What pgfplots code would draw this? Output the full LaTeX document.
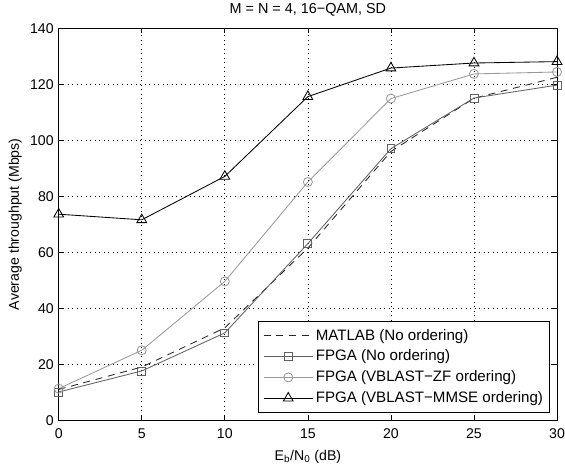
\documentclass[border=0pt]{standalone}
\usepackage{fontspec}
\setmainfont{Liberation Sans}
\usepackage{pgfplots}
\pgfplotsset{compat=1.18}
\definecolor{sqgray}{gray}{0.38}
\definecolor{cigray}{gray}{0.6}
\begin{document}
\begin{tikzpicture}
\useasboundingbox (0,0) rectangle (400pt,330.6pt);
\begin{axis}[
  at={(41.56pt,33.06pt)}, anchor=south west,
  scale only axis,
  width=352.8pt, height=277.5pt,
  xmin=0, xmax=30, ymin=0, ymax=140,
  xtick={0,5,...,30}, ytick={0,20,...,140},
  /pgf/number format/assume math mode=true,
  tick align=inside, major tick length=3.5pt,
  tick style={black, line width=0.5pt},
  axis line style={black, line width=0.6pt},
  grid=major,
  major grid style={black, line width=0.45pt, dash pattern=on 0.6pt off 2.6pt},
  font=\fontsize{10}{12}\selectfont,
  tick label style={font=\fontsize{10}{12}\selectfont},
  xticklabel style={yshift=-2.5pt},
  title={M = N = 4, 16−QAM, SD},
  title style={font=\fontsize{10.2}{12}\selectfont, yshift=-1pt},
  xlabel={E\textsubscript{b}/N\textsubscript{0} (dB)},
  ylabel={Average throughput (Mbps)},
  xlabel style={yshift=-1pt},
  ylabel style={yshift=-1pt},
  legend cell align=left,
  legend style={at={(0.986,0.018)}, anchor=south east, draw=black, line width=0.6pt,
    fill=white, font=\fontsize{10.7}{12}\selectfont, row sep=2.1pt,
    inner ysep=4pt, inner xsep=3pt,
    nodes={inner sep=1.7pt}},
  legend image code/.code={\draw[mark repeat=2,mark phase=2,#1] plot coordinates {(0pt,0pt)(17.5pt,0pt)(35pt,0pt)};},
]
\addplot[black!85, line width=0.6pt, dash pattern=on 5pt off 4pt] coordinates {
(0,11) (5,19) (10,33) (15,61.5) (20,96) (25,115) (30,122.5)};
\addlegendentry{MATLAB (No ordering)}
\addplot[sqgray, line width=0.6pt, mark=square, mark size=2.8pt, mark options={solid, line width=0.6pt}] coordinates {
(0,10.1) (5,17.6) (10,31.2) (15,63.1) (20,97) (25,115.1) (30,119.7)};
\addlegendentry{FPGA (No ordering)}
\addplot[cigray, line width=0.6pt, mark=o, mark size=3.2pt, mark options={solid, line width=0.6pt}] coordinates {
(0,11.3) (5,25) (10,49.6) (15,85.1) (20,114.9) (25,123.7) (30,124.4)};
\addlegendentry{FPGA (VBLAST−ZF ordering)}
\addplot[black, line width=0.6pt, mark=triangle, mark size=4pt, mark options={solid, line width=0.6pt}] coordinates {
(0,73.6) (5,71.6) (10,87.1) (15,115.6) (20,125.8) (25,127.6) (30,128.1)};
\addlegendentry{FPGA (VBLAST−MMSE ordering)}
\end{axis}
\end{tikzpicture}
\end{document}
